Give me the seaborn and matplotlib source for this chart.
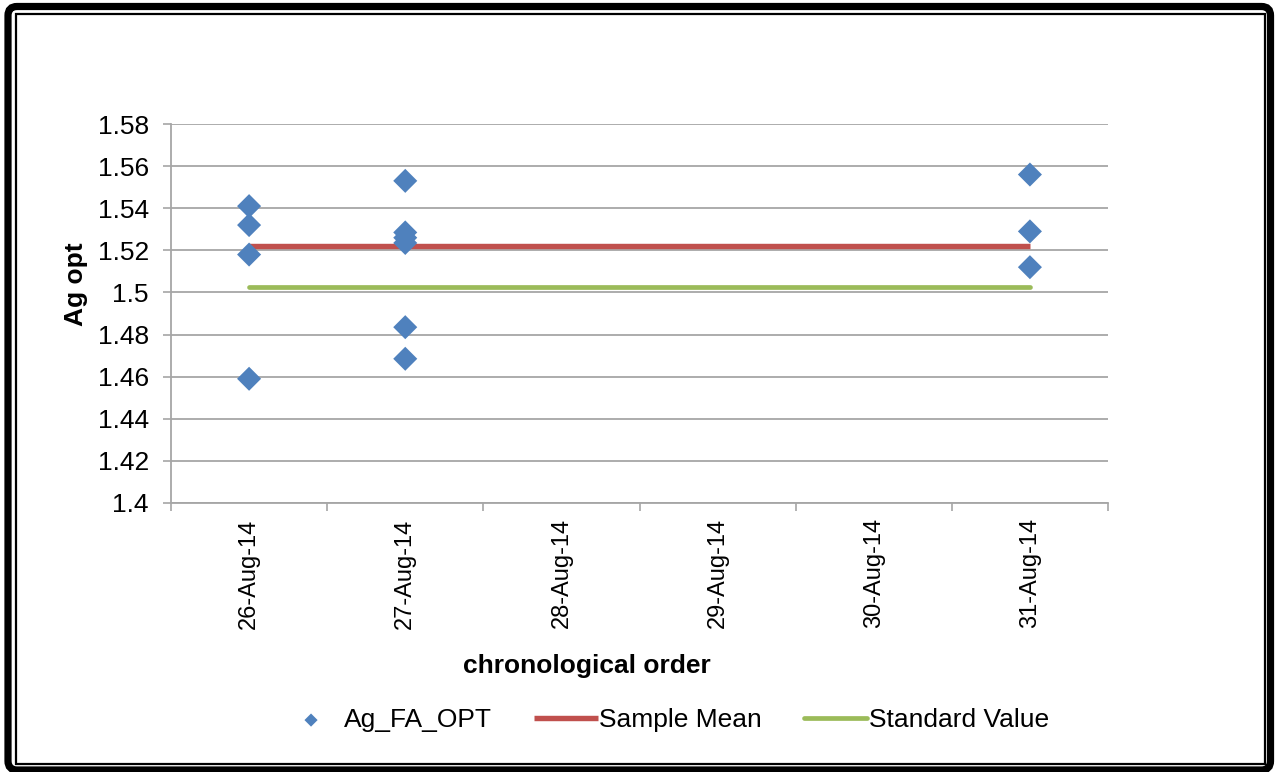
import matplotlib
matplotlib.use("Agg")
import matplotlib.pyplot as plt
from matplotlib.patches import FancyBboxPatch
from matplotlib.transforms import IdentityTransform
import seaborn as sns
import pandas as pd

# ---- data -------------------------------------------------------------
sample_dates = (["2014-08-26"] * 4
                + ["2014-08-27"] * 6
                + ["2014-08-31"] * 3)
ag_fa_opt = [1.541, 1.532, 1.518, 1.459,
             1.553, 1.5285, 1.526, 1.5235, 1.4835, 1.4685,
             1.556, 1.529, 1.512]

axis_days = ["2014-08-26", "2014-08-27", "2014-08-28",
             "2014-08-29", "2014-08-30", "2014-08-31"]
line_span = ["2014-08-26", "2014-08-31"]
sample_mean = 1.522
standard_value = 1.5025

y_ticks = [1.40, 1.42, 1.44, 1.46, 1.48, 1.50, 1.52, 1.54, 1.56, 1.58]

# ---- helpers ----------------------------------------------------------
start = pd.Timestamp(axis_days[0])


def day_index(dates):
    return [(pd.Timestamp(d) - start).days for d in dates]


points = pd.DataFrame({"day": day_index(sample_dates), "value": ag_fa_opt})
span_x = day_index(line_span)
tick_pos = day_index(axis_days)
tick_labels = [pd.Timestamp(d).strftime("%d-%b-%y") for d in axis_days]

# ---- style ------------------------------------------------------------
sns.set_style("white")
plt.rcParams["font.family"] = ["Liberation Sans", "DejaVu Sans"]
plt.rcParams["text.color"] = "black"
plt.rcParams["axes.labelcolor"] = "black"
plt.rcParams["xtick.labelcolor"] = "black"
plt.rcParams["ytick.labelcolor"] = "black"

BLUE = "#4F81BD"
RED = "#C0504D"
GREEN = "#9BBB59"
GRID = "#A6A6A6"

W, H = 1275, 772
fig = plt.figure(figsize=(W / 100, H / 100), dpi=100)
fig.patch.set_facecolor("white")

ax = fig.add_axes([171 / W, 1 - 503 / H, (1108 - 171) / W, (503 - 124) / H])

sns.lineplot(x=span_x, y=[sample_mean] * 2, ax=ax, color=RED,
             linewidth=3.9, label="Sample Mean", solid_capstyle="butt",
             zorder=2)
sns.lineplot(x=span_x, y=[standard_value] * 2, ax=ax, color=GREEN,
             linewidth=3.4, label="Standard Value", solid_capstyle="round",
             zorder=2)
sns.scatterplot(data=points, x="day", y="value", ax=ax, marker="D",
                s=150, color=BLUE, edgecolor="none", linewidth=0,
                label="Ag_FA_OPT", zorder=3)

# ---- axes -------------------------------------------------------------
ax.set_xlim(-0.5, len(axis_days) - 0.5)
ax.set_ylim(y_ticks[0], y_ticks[-1])
ax.set_yticks(y_ticks)
ax.set_yticklabels([f"{v:g}" for v in y_ticks])
ax.yaxis.grid(True, color=GRID, linewidth=1.3)
ax.xaxis.grid(False)
ax.set_axisbelow(True)

ax.set_xticks(tick_pos)
ax.set_xticklabels(tick_labels, rotation=90, va="top", ha="center")
ax.set_xticks([p - 0.5 for p in tick_pos] + [tick_pos[-1] + 0.5], minor=True)
ax.tick_params(axis="x", which="major", length=0, pad=11, labelsize=17,
               labelcolor="black")
ax.tick_params(axis="x", which="minor", length=6, width=1.2, color=GRID,
               direction="out", bottom=True)
ax.tick_params(axis="y", which="major", length=6, width=1.2, color=GRID,
               direction="out", left=True, pad=10, labelsize=19,
               labelcolor="black")

for side in ("top", "right"):
    ax.spines[side].set_visible(False)
for side in ("left", "bottom"):
    ax.spines[side].set_color(GRID)
    ax.spines[side].set_linewidth(1.3)

ax.set_xlabel("")
ax.set_ylabel("")
if ax.get_legend() is not None:
    ax.get_legend().remove()

fig.text(76 / W, 1 - 284 / H, "Ag opt", rotation=90, ha="center",
         va="center", fontsize=19, fontweight="bold", color="black")
fig.text(587 / W, 1 - 666 / H, "chronological order", ha="center",
         va="center", fontsize=19, fontweight="bold", color="black")

# ---- legend -----------------------------------------------------------
handles, labels = ax.get_legend_handles_labels()
order = [labels.index(n) for n in ("Ag_FA_OPT", "Sample Mean", "Standard Value")]
leg = fig.legend([handles[i] for i in order], [labels[i] for i in order],
                 loc="center", bbox_to_anchor=(664 / W, 1 - 720 / H),
                 ncol=3, frameon=False, fontsize=19, handlelength=2.4,
                 handletextpad=0.05, columnspacing=1.6)
leg.legend_handles[0].set_sizes([45])
for t in leg.get_texts():
    t.set_color("black")

# ---- page frame -------------------------------------------------------
ident = IdentityTransform()
outer = FancyBboxPatch((8, H - 770), 1270.5 - 8, 770 - 6.5,
                       boxstyle="round,pad=0,rounding_size=9",
                       transform=ident, fill=False, edgecolor="black",
                       linewidth=5.2)
inner = FancyBboxPatch((16, H - 764), 1265 - 16, 764 - 13.5,
                       boxstyle="square,pad=0", transform=ident,
                       fill=False, edgecolor="black", linewidth=1.6)
fig.patches.extend([outer, inner])

fig.savefig("out.png", dpi=100)
